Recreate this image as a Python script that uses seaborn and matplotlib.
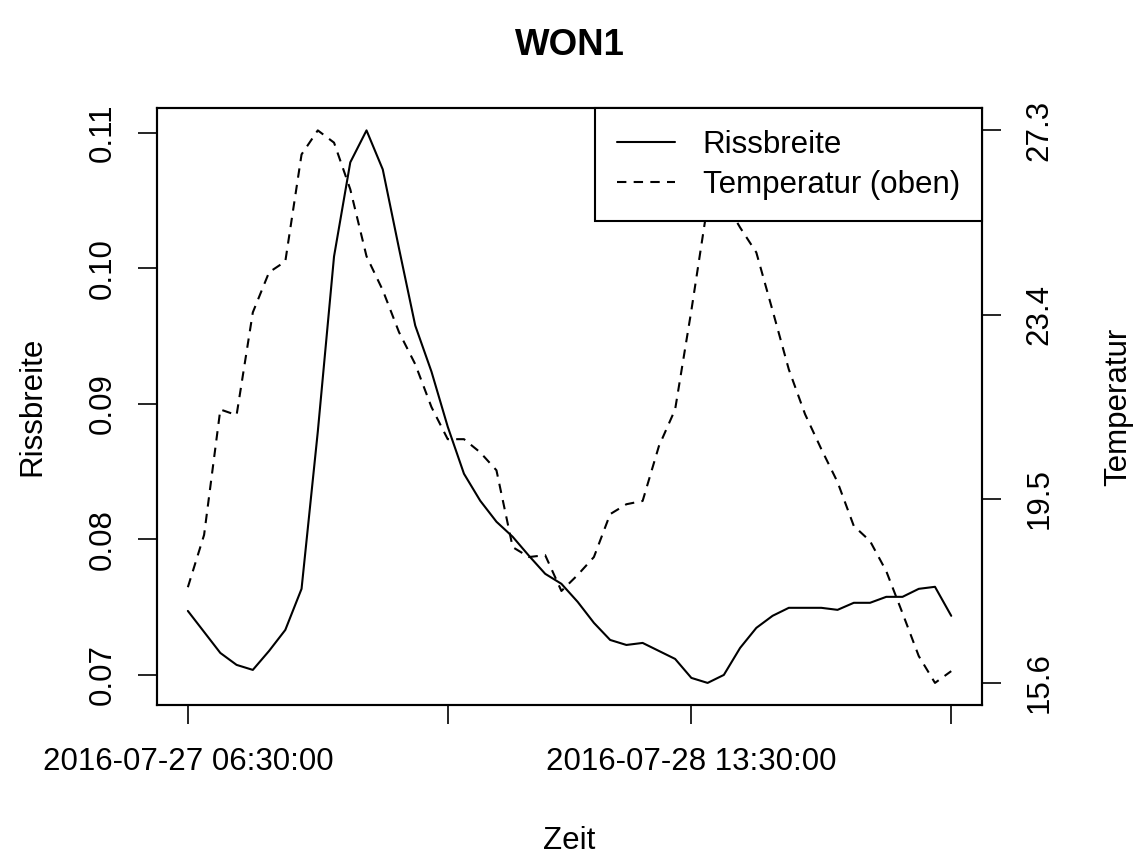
import pandas as pd
import numpy as np
import matplotlib.pyplot as plt
import matplotlib.dates as mdates
import seaborn as sns
from matplotlib.lines import Line2D

# Daten: stündliche Messwerte
zeit = pd.date_range('2016-07-27 06:30:00', periods=48, freq='h')

rissbreite = [0.07472, 0.07317, 0.07162, 0.07074, 0.07037, 0.07177, 0.07332, 0.07635,
              0.08794, 0.10087, 0.10781, 0.11017, 0.10729, 0.10146, 0.09577, 0.09237,
              0.08831, 0.08484, 0.08285, 0.08130, 0.08019, 0.07879, 0.07746, 0.07672,
              0.07539, 0.07384, 0.07258, 0.07221, 0.07236, 0.07177, 0.07118, 0.06978,
              0.06941, 0.07000, 0.07199, 0.07347, 0.07436, 0.07495, 0.07495, 0.07495,
              0.07480, 0.07532, 0.07532, 0.07576, 0.07576, 0.07635, 0.07650, 0.07436]

temperatur = [17.63, 18.74, 21.40, 21.28, 23.46, 24.31, 24.54, 26.81,
              27.32, 27.06, 26.07, 24.65, 23.93, 23.04, 22.36, 21.45,
              20.77, 20.77, 20.49, 20.11, 18.48, 18.27, 18.31, 17.55,
              17.89, 18.27, 19.18, 19.39, 19.46, 20.62, 21.40, 23.50,
              25.75, 25.85, 25.26, 24.73, 23.50, 22.25, 21.30, 20.56,
              19.86, 18.93, 18.61, 17.97, 17.08, 16.17, 15.60, 15.85]

tick_zeiten = pd.to_datetime(['2016-07-27 06:30:00', '2016-07-27 22:30:00',
                              '2016-07-28 13:30:00', '2016-07-29 05:30:00'])
tick_labels = ['2016-07-27 06:30:00', '', '2016-07-28 13:30:00', '']
riss_ticks = [0.07, 0.08, 0.09, 0.10, 0.11]

df = pd.DataFrame({'Zeit': zeit, 'Rissbreite': rissbreite, 'Temperatur': temperatur})

sns.set_style('ticks')
plt.rcParams['font.family'] = ['Liberation Sans', 'DejaVu Sans']
for k in ['text.color', 'axes.labelcolor', 'xtick.color', 'ytick.color', 'axes.edgecolor']:
    plt.rcParams[k] = 'black'


def r_lim(v):
    # wie R: Bereich um 4% erweitern
    lo, hi = min(v), max(v)
    d = 0.04 * (hi - lo)
    return lo - d, hi + d


fs = 22.5

fig = plt.figure(figsize=(11.4, 8.58), dpi=100)
ax = fig.add_axes([0.138, 0.1783, 0.7232, 0.6955])
ax2 = ax.twinx()

sns.lineplot(data=df, x='Zeit', y='Rissbreite', ax=ax, color='black', lw=1.5, legend=False)
sns.lineplot(data=df, x='Zeit', y='Temperatur', ax=ax2, color='black', lw=1.5,
             dashes=False, legend=False)
ax2.lines[0].set_dashes((4.5, 3.5))

xnum = mdates.date2num(zeit)
ax.set_xlim(r_lim(xnum))
ax.set_ylim(r_lim(rissbreite))
ax2.set_ylim(r_lim(temperatur))

ax.set_xticks(tick_zeiten)
ax.set_xticklabels(tick_labels)
ax.set_yticks(riss_ticks)
ax.set_yticklabels(['%.2f' % t for t in riss_ticks], rotation=90, va='center')
temp_ticks = np.linspace(min(temperatur), max(temperatur), 4)
ax2.set_yticks(temp_ticks)
ax2.set_yticklabels(['%.1f' % t for t in temp_ticks], rotation=90, va='center')

ax.tick_params(axis='x', length=13.5, width=1.2, labelsize=fs, pad=17)
ax.tick_params(axis='y', length=13.5, width=1.2, labelsize=fs, pad=15)
ax2.tick_params(axis='y', length=13.5, width=1.2, labelsize=fs, pad=17)

for a in (ax, ax2):
    for s in a.spines.values():
        s.set_visible(True)
        s.set_linewidth(1.5)

ax.set_xlabel('Zeit', fontsize=fs, va='center')
ax.xaxis.set_label_coords(0.5, -0.228)
ax.set_ylabel('Rissbreite', fontsize=fs, va='center')
ax.yaxis.set_label_coords(-0.152, 0.5)
ax2.set_ylabel('Temperatur', fontsize=fs, va='center')
ax2.yaxis.set_label_coords(1.1653, 0.5)
ax.set_title('WON1', fontsize=26.4, fontweight='bold', y=1.0906, va='center')

handles = [Line2D([], [], color='black', lw=1.5),
           Line2D([], [], color='black', lw=1.5, dashes=(4.5, 3.5))]
leg = ax2.legend(handles, ['Rissbreite', 'Temperatur (oben)'], loc='upper right',
                 bbox_to_anchor=(1, 1), borderaxespad=0, fancybox=False,
                 edgecolor='black', framealpha=1, fontsize=fs, handlelength=1.85,
                 handletextpad=0.9, borderpad=0.7, labelspacing=0.3)
leg.get_frame().set_linewidth(1.5)

plt.savefig('out.png', dpi=100)
